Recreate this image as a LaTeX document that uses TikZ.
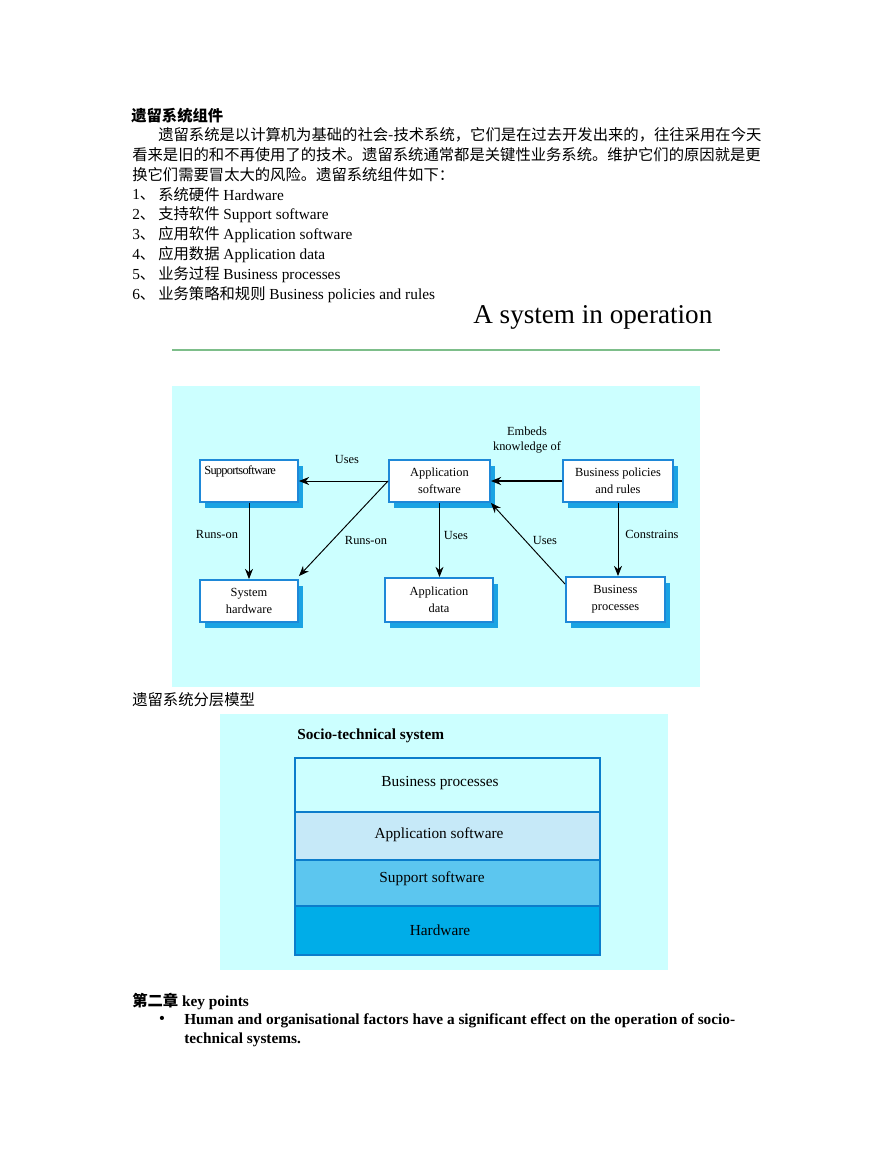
\documentclass[tikz,border=0pt]{standalone}
\usepackage{fontspec}
\setmainfont{Liberation Serif}
\newfontfamily\cjk{Noto Sans CJK SC}
\usetikzlibrary{arrows.meta,shadows,calc}
\definecolor{bgcyan}{HTML}{CCFFFF}
\definecolor{boxblue}{HTML}{1E88D8}
\definecolor{shadeblue}{HTML}{1AA3E3}
\definecolor{rulegreen}{HTML}{7DBE8A}
\definecolor{layline}{HTML}{0B7DCB}
\definecolor{layapp}{HTML}{C6E9F8}
\definecolor{laysup}{HTML}{5CC6EF}
\definecolor{layhw}{HTML}{00ADE8}
\begin{document}
\begin{tikzpicture}[x=0.685pt,y=-0.685pt,
  txt/.style={anchor=west,inner sep=0pt,font=\fontsize{10.5}{12}\selectfont},
  lbl/.style={inner sep=0pt,font=\fontsize{8.5}{10}\selectfont,align=center},
  compbox/.style={draw=boxblue,line width=1.3pt,fill=white,inner sep=0pt,
    font=\fontsize{8.5}{11.5}\selectfont,align=center,
    drop shadow={shadow xshift=3.5pt,shadow yshift=-4pt,fill=shadeblue,opacity=1}},
  link/.style={-{Stealth[length=7pt,width=5.5pt]},line width=0.65pt},
  layer/.style={draw=layline,line width=1.2pt}]

\useasboundingbox (0,0) rectangle (893,1155);
\fill[white] (0,0) rectangle (893,1155);

\node[txt,font=\fontsize{10.5}{12}\selectfont\bfseries] (title) at (131,116) {\cjk 遗留系统组件};
\node[txt] (par1) at (158,135) {\cjk 遗留系统是以计算机为基础的社会-技术系统，它们是在过去开发出来的，往往采用在今天};
\node[txt] (par2) at (132,155) {\cjk 看来是旧的和不再使用了的技术。遗留系统通常都是关键性业务系统。维护它们的原因就是更};
\node[txt] (par3) at (132,175) {\cjk 换它们需要冒太大的风险。遗留系统组件如下：};

\node[txt] (n1) at (132,195) {1{\cjk 、}};
\node[txt] (i1) at (158,195) {{\cjk 系统硬件} Hardware};
\node[txt] (n2) at (132,215) {2{\cjk 、}};
\node[txt] (i2) at (158,215) {{\cjk 支持软件} Support software};
\node[txt] (n3) at (132,235) {3{\cjk 、}};
\node[txt] (i3) at (158,235) {{\cjk 应用软件} Application software};
\node[txt] (n4) at (132,255) {4{\cjk 、}};
\node[txt] (i4) at (158,255) {{\cjk 应用数据} Application data};
\node[txt] (n5) at (132,275) {5{\cjk 、}};
\node[txt] (i5) at (158,275) {{\cjk 业务过程} Business processes};
\node[txt] (n6) at (132,295) {6{\cjk 、}};
\node[txt] (i6) at (158,295) {{\cjk 业务策略和规则} Business policies and rules};

\node[txt,font=\fontsize{18.6}{21}\selectfont] (optitle) at (473,317) {A system in operation};
\draw[rulegreen,line width=0.9pt] (172,350) -- (720,350);

\fill[bgcyan] (172,386) rectangle (700,687);

\node[compbox,minimum width=98*0.685pt,minimum height=42*0.685pt] (sup) at (249,481) {};
\node[anchor=north west,inner sep=0pt,font=\fontsize{8.5}{10}\selectfont\addfontfeature{LetterSpace=-6}] (suptext) at ($(sup.north west)+(5,6)$) {Supportsoftware};
\node[compbox,minimum width=101*0.685pt,minimum height=42*0.685pt] (app) at (439.5,481) {Application\\software};
\node[compbox,minimum width=110*0.685pt,minimum height=42*0.685pt] (pol) at (618,481) {Business policies\\and rules};
\node[compbox,minimum width=98*0.685pt,minimum height=42*0.685pt] (hw) at (249,601) {System\\hardware};
\node[compbox,minimum width=108*0.685pt,minimum height=44*0.685pt] (dat) at (439,600) {Application\\data};
\node[compbox,minimum width=99*0.685pt,minimum height=45*0.685pt] (bp) at (615.5,599.5) {Business\\processes};

\draw[link] (app.west) -- (sup.east);
\draw[link] (sup.south) -- (hw.north);
\draw[link] (app.west) -- ($(hw.north east)+(0,-3)$);
\draw[link] (app.south) -- (app.south |- dat.north);
\draw[link] ($(bp.north west)+(0,8)$) -- (app.south east);
\draw[link,line width=1.6pt] (pol.west) -- (app.east);
\draw[link] (pol.south) -- (pol.south |- bp.north);

\node[lbl] (lusessup) at (347,459) {Uses};
\node[lbl] (lrun1) at (217,534) {Runs-on};
\node[lbl] (lrun2) at (366,540) {Runs-on};
\node[lbl] (lusesdat) at (456,535) {Uses};
\node[lbl] (lusesbp) at (545,540) {Uses};
\node[lbl] (lembeds) at (527,440) {Embeds\\knowledge of};
\node[lbl] (lconstr) at (652,534) {Constrains};

\node[txt] (laytitle) at (132,700) {\cjk 遗留系统分层模型};

\fill[bgcyan] (220,714) rectangle (668,970);
\node[txt,font=\fontsize{10.5}{12}\selectfont\bfseries] (socio) at (297,736) {Socio-technical system};
\draw[layer,fill=bgcyan] (295,758) rectangle (600,812);
\draw[layer,fill=layapp] (295,812) rectangle (600,860);
\draw[layer,fill=laysup] (295,860) rectangle (600,906);
\draw[layer,fill=layhw] (295,906) rectangle (600,955);
\node[lbl,font=\fontsize{10.5}{12}\selectfont] (lbp) at (440,783) {Business processes};
\node[lbl,font=\fontsize{10.5}{12}\selectfont] (lapp) at (439,835) {Application software};
\node[lbl,font=\fontsize{10.5}{12}\selectfont] (lsup) at (432,879) {Support software};
\node[lbl,font=\fontsize{10.5}{12}\selectfont] (lhw) at (440,930) {Hardware};

\node[txt,font=\fontsize{10.5}{12}\selectfont\bfseries] (keyp) at (132,1001) {{\cjk 第二章} key points};
\node[txt,font=\fontsize{10.5}{12}\selectfont\bfseries] (bul) at (159,1020) {\textbullet};
\node[txt,font=\fontsize{10.5}{12}\selectfont\bfseries] (kp1) at (184,1021) {Human and organisational factors have a significant effect on the operation of socio-};
\node[txt,font=\fontsize{10.5}{12}\selectfont\bfseries] (kp2) at (184,1040) {technical systems.};

\end{tikzpicture}
\end{document}
